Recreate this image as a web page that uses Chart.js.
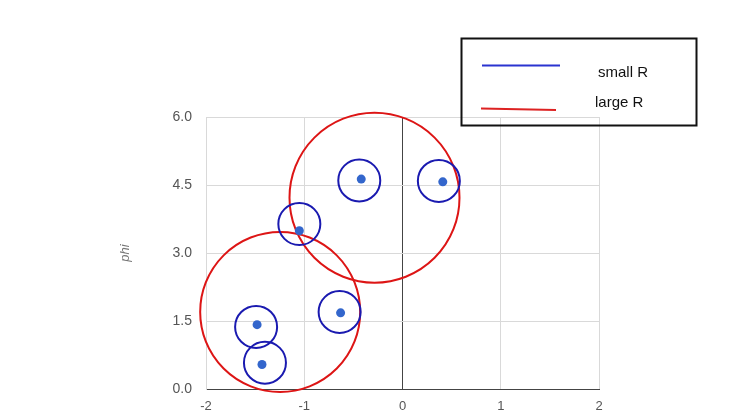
<!DOCTYPE html>
<html>
<head>
<meta charset="utf-8">
<script src="https://cdn.jsdelivr.net/npm/chart.js@4"></script>
<style>
  body { margin: 0; background: #fff; }
</style>
</head>
<body>
<canvas id="grafico" width="741" height="420"></canvas>
<script>
// datos
const puntosX = [-0.42, 0.41, -1.05, -0.63, -1.48, -1.43];
const puntosY = [4.63, 4.57, 3.49, 1.68, 1.42, 0.54];

// circulos pequeños (small R)
const chicosX = [-0.44, 0.37, -1.05, -0.64, -1.49, -1.40];
const chicosY = [4.60, 4.59, 3.64, 1.70, 1.37, 0.58];

// circulos grandes (large R)
const grandesX = [-0.285, -1.245];
const grandesY = [4.22, 1.70];

const xTicks = [-2, -1, 0, 1, 2];
const yTicks = [0, 1.5, 3, 4.5, 6];

const etiquetas = ["small R", "large R"];

const FUENTE = "Arial, 'Liberation Sans', sans-serif";

const aPuntos = (xs, ys) => xs.map((x, i) => ({ x: x, y: ys[i] }));

const colorGrid = (ctx) =>
  ctx.tick && ctx.tick.value === 0 ? "#444" : "#d9d9d9";

// leyenda dibujada a mano, como en la imagen original
const leyenda = {
  id: "leyenda",
  afterDraw(chart) {
    const ctx = chart.ctx;
    ctx.save();
    ctx.strokeStyle = "#111";
    ctx.lineWidth = 2;
    ctx.strokeRect(461.5, 38.5, 235, 87);

    ctx.lineWidth = 2;
    ctx.strokeStyle = "#2a33d0";
    ctx.beginPath();
    ctx.moveTo(482, 65.5);
    ctx.lineTo(560, 65.5);
    ctx.stroke();

    ctx.strokeStyle = "#dd2222";
    ctx.beginPath();
    ctx.moveTo(481, 108.5);
    ctx.lineTo(556, 110);
    ctx.stroke();

    ctx.fillStyle = "#111";
    ctx.font = "15px " + FUENTE;
    ctx.textBaseline = "alphabetic";
    ctx.fillText(etiquetas[0], 598, 77);
    ctx.fillText(etiquetas[1], 595, 107);
    ctx.restore();
  },
};

const canvas2D = document.getElementById("grafico").getContext("2d");

const myChart = new Chart(canvas2D, {
  type: "scatter",
  data: {
    datasets: [
      {
        label: "puntos",
        data: aPuntos(puntosX, puntosY),
        pointRadius: 4.5,
        pointBackgroundColor: "#3366cc",
        pointBorderWidth: 0,
      },
      {
        label: etiquetas[0],
        data: aPuntos(chicosX, chicosY),
        pointRadius: 21,
        pointBackgroundColor: "rgba(0,0,0,0)",
        pointBorderColor: "#1a1ab0",
        pointBorderWidth: 2,
        clip: false,
      },
      {
        label: etiquetas[1],
        data: aPuntos(grandesX, grandesY),
        pointRadius: [85, 80],
        pointBackgroundColor: "rgba(0,0,0,0)",
        pointBorderColor: "#dd1515",
        pointBorderWidth: 2,
        clip: false,
      },
    ],
  },
  options: {
    responsive: false,
    animation: false,
    events: [],
    layout: {
      autoPadding: false,
      padding: { left: 114, top: 117, right: 142, bottom: 0 },
    },
    scales: {
      x: {
        type: "linear",
        min: -2,
        max: 2,
        afterBuildTicks: (s) => {
          s.ticks = xTicks.map((v) => ({ value: v }));
        },
        afterFit: (s) => {
          s.height = 31;
        },
        grid: { color: colorGrid, lineWidth: 1, drawTicks: false },
        border: { color: "#444", width: 1 },
        ticks: {
          padding: 10,
          color: "#555",
          font: { family: FUENTE, size: 13 },
          maxRotation: 0,
        },
      },
      y: {
        type: "linear",
        min: 0,
        max: 6,
        afterBuildTicks: (s) => {
          s.ticks = yTicks.map((v) => ({ value: v }));
        },
        afterFit: (s) => {
          s.width = 92;
        },
        grid: { color: colorGrid, lineWidth: 1, drawTicks: false },
        border: { color: "#d9d9d9", width: 1 },
        ticks: {
          padding: 14,
          color: "#555",
          font: { family: FUENTE, size: 14 },
          callback: (v) => Number(v).toFixed(1),
        },
        title: {
          display: true,
          text: "phi",
          color: "#777",
          font: { family: FUENTE, size: 13, style: "italic" },
        },
      },
    },
    plugins: {
      legend: { display: false },
      tooltip: { enabled: false },
    },
  },
  plugins: [leyenda],
});
</script>
</body>
</html>
